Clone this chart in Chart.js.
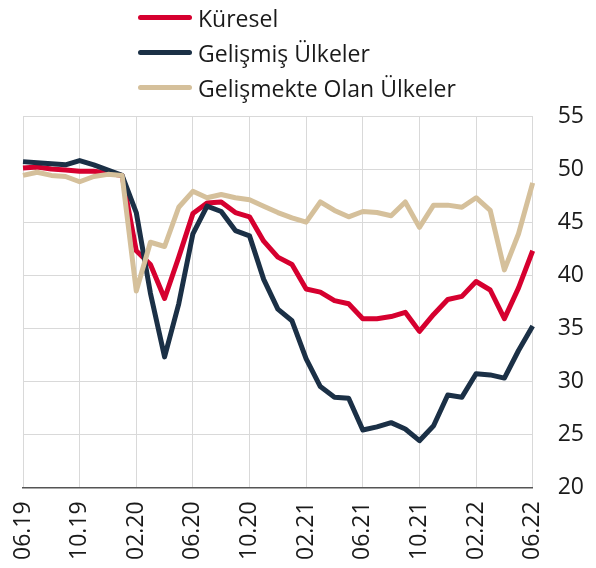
<!DOCTYPE html>
<html lang="tr">
<head>
<meta charset="utf-8">
<script src="https://cdn.jsdelivr.net/npm/chart.js@4"></script>
<style>
    html, body { margin: 0; padding: 0; background: #fff; }
    #wrap { position: relative; width: 596px; height: 568px; }
    #chart { position: absolute; left: 0; top: 0; }
    #legend { position: absolute; left: 138px; top: 0; font-family: "Open Sans", sans-serif; font-size: 23px; color: #1a1a1a; }
    .item { display: flex; align-items: center; height: 35px; }
    .swatch { width: 54px; height: 5px; border-radius: 3px; margin-right: 6px; }
</style>
</head>
<body>
<div id="wrap">
    <canvas id="chart" width="596" height="568"></canvas>
    <div id="legend"></div>
</div>
<script>
"use strict";

// Aylar (06.19 - 06.22)
const months = [
    '06.19', '07.19', '08.19', '09.19', '10.19', '11.19', '12.19', '01.20', '02.20',
    '03.20', '04.20', '05.20', '06.20', '07.20', '08.20', '09.20', '10.20', '11.20',
    '12.20', '01.21', '02.21', '03.21', '04.21', '05.21', '06.21', '07.21', '08.21',
    '09.21', '10.21', '11.21', '12.21', '01.22', '02.22', '03.22', '04.22', '05.22', '06.22'
];

const kuresel = [
    50.1, 50.2, 50.0, 49.9, 49.8, 49.8, 49.6, 49.4, 42.3, 41.0,
    37.8, 41.7, 45.8, 46.8, 46.9, 45.9, 45.5, 43.2, 41.7, 41.0,
    38.7, 38.4, 37.6, 37.3, 35.9, 35.9, 36.1, 36.5, 34.7, 36.3,
    37.7, 38.0, 39.4, 38.6, 35.9, 38.8, 42.3
];

const gelismis = [
    50.7, 50.6, 50.5, 50.4, 50.8, 50.4, 49.9, 49.4, 45.9, 38.3,
    32.3, 37.3, 43.9, 46.5, 46.0, 44.2, 43.7, 39.6, 36.8, 35.7,
    32.1, 29.5, 28.5, 28.4, 25.4, 25.7, 26.1, 25.5, 24.4, 25.8,
    28.7, 28.5, 30.7, 30.6, 30.3, 32.9, 35.2
];

const gelismekte = [
    49.4, 49.7, 49.4, 49.3, 48.8, 49.3, 49.5, 49.4, 38.5, 43.1,
    42.7, 46.4, 47.9, 47.3, 47.6, 47.3, 47.1, 46.5, 45.9, 45.4,
    45.0, 46.9, 46.1, 45.5, 46.0, 45.9, 45.6, 46.9, 44.5, 46.6,
    46.6, 46.4, 47.3, 46.1, 40.5, 43.9, 48.7
];

const yTicks = [20, 25, 30, 35, 40, 45, 50, 55];

const series = [
    { label: 'Küresel', data: kuresel, color: '#d6002f', order: 3 },
    { label: 'Gelişmiş Ülkeler', data: gelismis, color: '#1b3046', order: 2 },
    { label: 'Gelişmekte Olan Ülkeler', data: gelismekte, color: '#d5c09b', order: 1 }
];

const FONT = { family: '"Open Sans", sans-serif', size: 23 };

// HTML lejant
function buildLegend() {
    const box = document.getElementById('legend');
    series.forEach(s => {
        const row = document.createElement('div');
        row.className = 'item';
        row.innerHTML = `<span class="swatch" style="background:${s.color}"></span><span>${s.label}</span>`;
        box.appendChild(row);
    });
}

function initChart() {
    const ctx = document.getElementById('chart').getContext('2d');

    new Chart(ctx, {
        type: 'line',
        data: {
            labels: months,
            datasets: series.map(s => ({
                label: s.label,
                data: s.data,
                borderColor: s.color,
                backgroundColor: s.color,
                borderWidth: 5,
                pointRadius: 0,
                tension: 0,
                order: s.order,
                borderJoinStyle: 'round'
            }))
        },
        options: {
            responsive: false,
            animation: false,
            layout: { padding: { top: 116, left: 23, right: -13, bottom: -6 } },
            plugins: {
                legend: { display: false },
                tooltip: { enabled: false }
            },
            scales: {
                x: {
                    offset: false,
                    grid: { color: '#d9d9d9', lineWidth: 1, drawTicks: false },
                    border: { color: '#555', width: 1.5 },
                    ticks: {
                        autoSkip: false,
                        maxRotation: 90,
                        minRotation: 90,
                        padding: 14,
                        color: '#1a1a1a',
                        font: FONT,
                        callback: (v, i) => (i % 4 === 0 ? months[i] : null)
                    }
                },
                y: {
                    position: 'right',
                    min: 20,
                    max: 55,
                    afterBuildTicks: axis => { axis.ticks = yTicks.map(v => ({ value: v })); },
                    grid: { color: '#d9d9d9', lineWidth: 1, drawTicks: false },
                    border: { display: false },
                    ticks: { padding: 25, color: '#1a1a1a', font: FONT }
                }
            }
        }
    });
}

buildLegend();
initChart();
</script>
</body>
</html>
